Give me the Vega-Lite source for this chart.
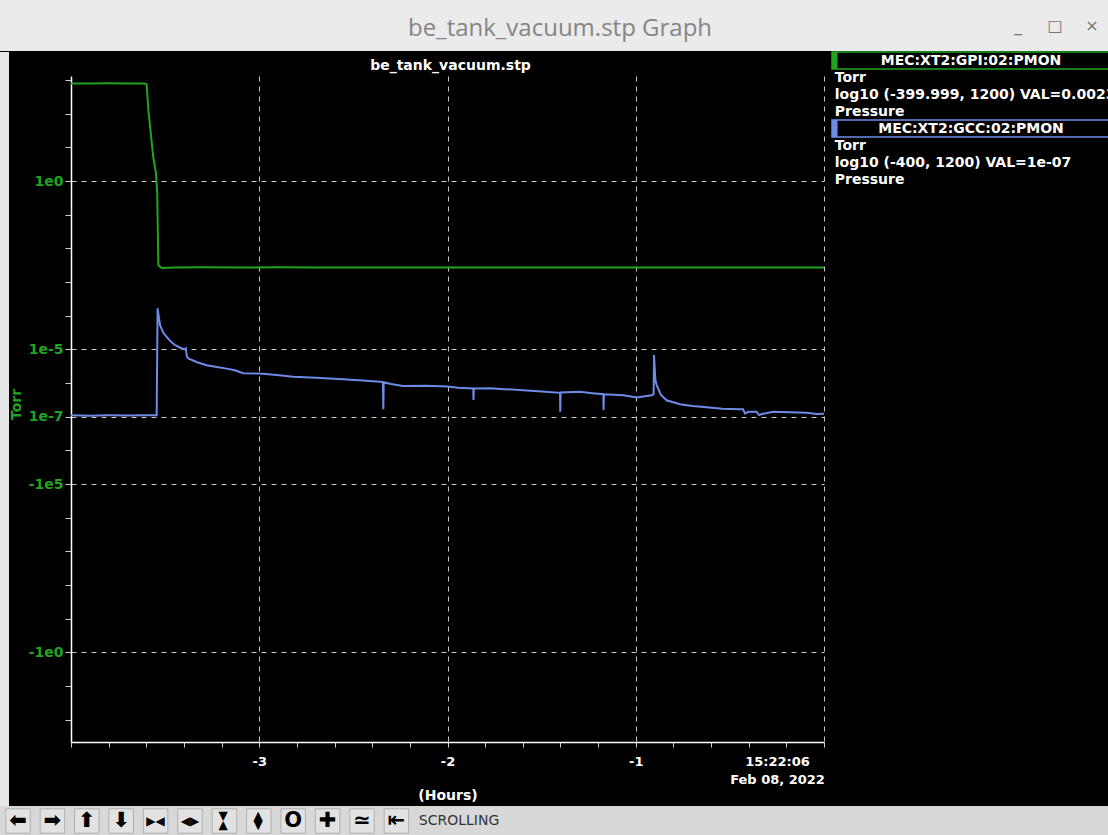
{
  "$schema": "https://vega.github.io/schema/vega-lite/v6.json",
  "padding": 0,
  "background": "#000000",
  "spacing": 0,
  "config": {"view": {"stroke": null}},
  "datasets": {
    "traces": [
      {"series": "MEC:XT2:GPI:02:PMON", "t": -4.0, "p": 795},
      {"series": "MEC:XT2:GPI:02:PMON", "t": -3.9, "p": 795},
      {"series": "MEC:XT2:GPI:02:PMON", "t": -3.8, "p": 800},
      {"series": "MEC:XT2:GPI:02:PMON", "t": -3.7, "p": 795},
      {"series": "MEC:XT2:GPI:02:PMON", "t": -3.62, "p": 795},
      {"series": "MEC:XT2:GPI:02:PMON", "t": -3.605, "p": 780},
      {"series": "MEC:XT2:GPI:02:PMON", "t": -3.598, "p": 740},
      {"series": "MEC:XT2:GPI:02:PMON", "t": -3.589, "p": 129},
      {"series": "MEC:XT2:GPI:02:PMON", "t": -3.563, "p": 5.1},
      {"series": "MEC:XT2:GPI:02:PMON", "t": -3.549, "p": 1.74},
      {"series": "MEC:XT2:GPI:02:PMON", "t": -3.542, "p": 0.437},
      {"series": "MEC:XT2:GPI:02:PMON", "t": -3.536, "p": 0.0032},
      {"series": "MEC:XT2:GPI:02:PMON", "t": -3.525, "p": 0.00275},
      {"series": "MEC:XT2:GPI:02:PMON", "t": -3.517, "p": 0.00263},
      {"series": "MEC:XT2:GPI:02:PMON", "t": -3.45, "p": 0.00269},
      {"series": "MEC:XT2:GPI:02:PMON", "t": -3.3, "p": 0.00275},
      {"series": "MEC:XT2:GPI:02:PMON", "t": -3.1, "p": 0.00269},
      {"series": "MEC:XT2:GPI:02:PMON", "t": -2.9, "p": 0.00275},
      {"series": "MEC:XT2:GPI:02:PMON", "t": -2.7, "p": 0.00269},
      {"series": "MEC:XT2:GPI:02:PMON", "t": -2.4, "p": 0.00272},
      {"series": "MEC:XT2:GPI:02:PMON", "t": -2.1, "p": 0.00269},
      {"series": "MEC:XT2:GPI:02:PMON", "t": -1.8, "p": 0.00272},
      {"series": "MEC:XT2:GPI:02:PMON", "t": -1.5, "p": 0.00269},
      {"series": "MEC:XT2:GPI:02:PMON", "t": -1.2, "p": 0.00272},
      {"series": "MEC:XT2:GPI:02:PMON", "t": -0.9, "p": 0.00269},
      {"series": "MEC:XT2:GPI:02:PMON", "t": -0.6, "p": 0.00269},
      {"series": "MEC:XT2:GPI:02:PMON", "t": -0.3, "p": 0.00269},
      {"series": "MEC:XT2:GPI:02:PMON", "t": 0.0, "p": 0.00269},
      {"series": "MEC:XT2:GCC:02:PMON", "t": -4.0, "p": 1.1e-7},
      {"series": "MEC:XT2:GCC:02:PMON", "t": -3.9, "p": 1.08e-7},
      {"series": "MEC:XT2:GCC:02:PMON", "t": -3.8, "p": 1.1e-7},
      {"series": "MEC:XT2:GCC:02:PMON", "t": -3.7, "p": 1.09e-7},
      {"series": "MEC:XT2:GCC:02:PMON", "t": -3.6, "p": 1.1e-7},
      {"series": "MEC:XT2:GCC:02:PMON", "t": -3.545, "p": 1.1e-7},
      {"series": "MEC:XT2:GCC:02:PMON", "t": -3.54, "p": 1.66e-4},
      {"series": "MEC:XT2:GCC:02:PMON", "t": -3.527, "p": 5.25e-5},
      {"series": "MEC:XT2:GCC:02:PMON", "t": -3.51, "p": 3.16e-5},
      {"series": "MEC:XT2:GCC:02:PMON", "t": -3.492, "p": 2.34e-5},
      {"series": "MEC:XT2:GCC:02:PMON", "t": -3.47, "p": 1.7e-5},
      {"series": "MEC:XT2:GCC:02:PMON", "t": -3.448, "p": 1.35e-5},
      {"series": "MEC:XT2:GCC:02:PMON", "t": -3.42, "p": 1.12e-5},
      {"series": "MEC:XT2:GCC:02:PMON", "t": -3.395, "p": 1.0e-5},
      {"series": "MEC:XT2:GCC:02:PMON", "t": -3.39, "p": 1.07e-5},
      {"series": "MEC:XT2:GCC:02:PMON", "t": -3.385, "p": 6.31e-6},
      {"series": "MEC:XT2:GCC:02:PMON", "t": -3.377, "p": 5.37e-6},
      {"series": "MEC:XT2:GCC:02:PMON", "t": -3.33, "p": 4.17e-6},
      {"series": "MEC:XT2:GCC:02:PMON", "t": -3.279, "p": 3.39e-6},
      {"series": "MEC:XT2:GCC:02:PMON", "t": -3.225, "p": 3.02e-6},
      {"series": "MEC:XT2:GCC:02:PMON", "t": -3.173, "p": 2.69e-6},
      {"series": "MEC:XT2:GCC:02:PMON", "t": -3.13, "p": 2.4e-6},
      {"series": "MEC:XT2:GCC:02:PMON", "t": -3.085, "p": 1.95e-6},
      {"series": "MEC:XT2:GCC:02:PMON", "t": -3.0, "p": 1.91e-6},
      {"series": "MEC:XT2:GCC:02:PMON", "t": -2.907, "p": 1.74e-6},
      {"series": "MEC:XT2:GCC:02:PMON", "t": -2.821, "p": 1.55e-6},
      {"series": "MEC:XT2:GCC:02:PMON", "t": -2.7, "p": 1.45e-6},
      {"series": "MEC:XT2:GCC:02:PMON", "t": -2.555, "p": 1.29e-6},
      {"series": "MEC:XT2:GCC:02:PMON", "t": -2.45, "p": 1.2e-6},
      {"series": "MEC:XT2:GCC:02:PMON", "t": -2.359, "p": 1.1e-6},
      {"series": "MEC:XT2:GCC:02:PMON", "t": -2.343, "p": 1.07e-6},
      {"series": "MEC:XT2:GCC:02:PMON", "t": -2.341, "p": 1.66e-7},
      {"series": "MEC:XT2:GCC:02:PMON", "t": -2.339, "p": 1.05e-6},
      {"series": "MEC:XT2:GCC:02:PMON", "t": -2.3, "p": 9.33e-7},
      {"series": "MEC:XT2:GCC:02:PMON", "t": -2.236, "p": 8.13e-7},
      {"series": "MEC:XT2:GCC:02:PMON", "t": -2.111, "p": 8.32e-7},
      {"series": "MEC:XT2:GCC:02:PMON", "t": -2.0, "p": 7.94e-7},
      {"series": "MEC:XT2:GCC:02:PMON", "t": -1.944, "p": 7.24e-7},
      {"series": "MEC:XT2:GCC:02:PMON", "t": -1.863, "p": 6.92e-7},
      {"series": "MEC:XT2:GCC:02:PMON", "t": -1.862, "p": 3.16e-7},
      {"series": "MEC:XT2:GCC:02:PMON", "t": -1.86, "p": 6.92e-7},
      {"series": "MEC:XT2:GCC:02:PMON", "t": -1.774, "p": 7.08e-7},
      {"series": "MEC:XT2:GCC:02:PMON", "t": -1.7, "p": 6.61e-7},
      {"series": "MEC:XT2:GCC:02:PMON", "t": -1.597, "p": 6.17e-7},
      {"series": "MEC:XT2:GCC:02:PMON", "t": -1.5, "p": 5.62e-7},
      {"series": "MEC:XT2:GCC:02:PMON", "t": -1.402, "p": 5.13e-7},
      {"series": "MEC:XT2:GCC:02:PMON", "t": -1.401, "p": 1.41e-7},
      {"series": "MEC:XT2:GCC:02:PMON", "t": -1.399, "p": 5.25e-7},
      {"series": "MEC:XT2:GCC:02:PMON", "t": -1.296, "p": 5.5e-7},
      {"series": "MEC:XT2:GCC:02:PMON", "t": -1.23, "p": 5.01e-7},
      {"series": "MEC:XT2:GCC:02:PMON", "t": -1.172, "p": 4.68e-7},
      {"series": "MEC:XT2:GCC:02:PMON", "t": -1.171, "p": 1.58e-7},
      {"series": "MEC:XT2:GCC:02:PMON", "t": -1.169, "p": 4.68e-7},
      {"series": "MEC:XT2:GCC:02:PMON", "t": -1.066, "p": 4.37e-7},
      {"series": "MEC:XT2:GCC:02:PMON", "t": -0.995, "p": 3.72e-7},
      {"series": "MEC:XT2:GCC:02:PMON", "t": -0.915, "p": 4.37e-7},
      {"series": "MEC:XT2:GCC:02:PMON", "t": -0.905, "p": 4.68e-7},
      {"series": "MEC:XT2:GCC:02:PMON", "t": -0.903, "p": 6.76e-6},
      {"series": "MEC:XT2:GCC:02:PMON", "t": -0.896, "p": 1.26e-6},
      {"series": "MEC:XT2:GCC:02:PMON", "t": -0.889, "p": 8.71e-7},
      {"series": "MEC:XT2:GCC:02:PMON", "t": -0.866, "p": 4.47e-7},
      {"series": "MEC:XT2:GCC:02:PMON", "t": -0.836, "p": 3.09e-7},
      {"series": "MEC:XT2:GCC:02:PMON", "t": -0.765, "p": 2.34e-7},
      {"series": "MEC:XT2:GCC:02:PMON", "t": -0.7, "p": 2.09e-7},
      {"series": "MEC:XT2:GCC:02:PMON", "t": -0.623, "p": 1.91e-7},
      {"series": "MEC:XT2:GCC:02:PMON", "t": -0.54, "p": 1.74e-7},
      {"series": "MEC:XT2:GCC:02:PMON", "t": -0.446, "p": 1.66e-7},
      {"series": "MEC:XT2:GCC:02:PMON", "t": -0.43, "p": 1.66e-7},
      {"series": "MEC:XT2:GCC:02:PMON", "t": -0.42, "p": 1.26e-7},
      {"series": "MEC:XT2:GCC:02:PMON", "t": -0.4, "p": 1.41e-7},
      {"series": "MEC:XT2:GCC:02:PMON", "t": -0.358, "p": 1.41e-7},
      {"series": "MEC:XT2:GCC:02:PMON", "t": -0.345, "p": 1.12e-7},
      {"series": "MEC:XT2:GCC:02:PMON", "t": -0.33, "p": 1.2e-7},
      {"series": "MEC:XT2:GCC:02:PMON", "t": -0.269, "p": 1.41e-7},
      {"series": "MEC:XT2:GCC:02:PMON", "t": -0.18, "p": 1.35e-7},
      {"series": "MEC:XT2:GCC:02:PMON", "t": -0.092, "p": 1.32e-7},
      {"series": "MEC:XT2:GCC:02:PMON", "t": -0.04, "p": 1.2e-7},
      {"series": "MEC:XT2:GCC:02:PMON", "t": 0.0, "p": 1.23e-7}
    ],
    "legendRows": [
      {"row": 1, "kind": "h", "series": "MEC:XT2:GPI:02:PMON", "text": "MEC:XT2:GPI:02:PMON"},
      {"row": 2, "kind": "b", "series": "MEC:XT2:GPI:02:PMON", "text": "Torr"},
      {"row": 3, "kind": "b", "series": "MEC:XT2:GPI:02:PMON", "text": "log10 (-399.999, 1200) VAL=0.0023"},
      {"row": 4, "kind": "b", "series": "MEC:XT2:GPI:02:PMON", "text": "Pressure"},
      {"row": 5, "kind": "h", "series": "MEC:XT2:GCC:02:PMON", "text": "MEC:XT2:GCC:02:PMON"},
      {"row": 6, "kind": "b", "series": "MEC:XT2:GCC:02:PMON", "text": "Torr"},
      {"row": 7, "kind": "b", "series": "MEC:XT2:GCC:02:PMON", "text": "log10 (-400, 1200) VAL=1e-07"},
      {"row": 8, "kind": "b", "series": "MEC:XT2:GCC:02:PMON", "text": "Pressure"}
    ],
    "tools": [
      {"id": "t01", "glyph": "⬅", "kind": "h"},
      {"id": "t02", "glyph": "➡", "kind": "h"},
      {"id": "t03", "glyph": "⬆", "kind": "h"},
      {"id": "t04", "glyph": "⬇", "kind": "h"},
      {"id": "t05", "glyph": "▶◀", "kind": "s"},
      {"id": "t06", "glyph": "◀▶", "kind": "s"},
      {"id": "t07", "glyph": "▶◀", "kind": "v"},
      {"id": "t08", "glyph": "◀▶", "kind": "v"},
      {"id": "t09", "glyph": "O", "kind": "h"},
      {"id": "t10", "glyph": "✚", "kind": "h"},
      {"id": "t11", "glyph": "≃", "kind": "h"},
      {"id": "t12", "glyph": "⇤", "kind": "h"},
      {"id": "t13", "glyph": "SCROLLING", "kind": "label"}
    ]
  },
  "vconcat": [
    {
      "width": 1108,
      "height": 51,
      "view": {"fill": "#ebebeb", "stroke": null},
      "layer": [
        {
          "data": {"values": [{"label": "be_tank_vacuum.stp Graph"}]},
          "mark": {"type": "text", "font": "Open Sans", "fontSize": 24, "color": "#858585", "dx": 6, "dy": 3},
          "encoding": {"text": {"field": "label", "type": "nominal"}}
        },
        {
          "data": {"values": [{"btn": "_"}, {"btn": "□"}, {"btn": "×"}]},
          "mark": {"type": "text", "font": "DejaVu Sans", "fontSize": 16, "color": "#777777"},
          "encoding": {
            "x": {"field": "btn", "type": "nominal", "scale": {"type": "point", "domain": ["_", "□", "×"], "range": [1018, 1092], "padding": 0}, "axis": null},
            "text": {"field": "btn", "type": "nominal"}
          }
        }
      ]
    },
    {
      "spacing": 0,
      "hconcat": [
        {
          "width": 9,
          "height": 754,
          "data": {"values": [{"panel": "edge"}]},
          "mark": {"type": "rect", "color": "#e6e6e6"},
          "encoding": {}
        },
        {
          "spacing": 6,
          "hconcat": [
            {
              "spacing": 0,
              "vconcat": [
                {
                  "width": 753,
                  "height": 21,
                  "data": {"values": [{"label": "be_tank_vacuum.stp"}]},
                  "mark": {"type": "text", "font": "DejaVu Sans", "fontWeight": "bold", "fontSize": 14, "color": "#ffffff", "dx": 3, "dy": 3.5},
                  "encoding": {"text": {"field": "label", "type": "nominal"}}
                },
                {
                  "width": 753,
                  "height": 666,
                  "data": {"name": "traces"},
                  "mark": {"type": "line", "strokeWidth": 2, "clip": true},
                  "encoding": {
                    "x": {
                      "field": "t", "type": "quantitative",
                      "scale": {"domain": [-4, 0], "nice": false, "zero": false},
                      "axis": {
                        "values": [-4, -3.8, -3.6, -3.4, -3.2, -3, -2.8, -2.6, -2.4, -2.2, -2, -1.8, -1.6, -1.4, -1.2, -1, -0.8, -0.6, -0.4, -0.2, 0],
                        "labelExpr": "datum.value == 0 ? ['15:22:06', 'Feb 08, 2022'] : datum.value == -3 ? '-3' : datum.value == -2 ? '-2' : datum.value == -1 ? '-1' : ''",
                        "labelFlush": false,
                        "labelOverlap": false,
                        "labelBound": false,
                        "labelOffset": {"condition": {"test": "datum.value == 0", "value": -47}, "value": 0},
                        "labelColor": "#ffffff",
                        "labelFont": "DejaVu Sans",
                        "labelFontWeight": "bold",
                        "labelFontSize": 13,
                        "labelLineHeight": 18.5,
                        "labelPadding": 8,
                        "tickColor": "#d0d0d0",
                        "tickSize": 5,
                        "domainColor": "#ffffff",
                        "domainWidth": 1.5,
                        "grid": true,
                        "gridColor": "#c8c8c8",
                        "gridDash": [5, 5],
                        "gridOpacity": {"condition": {"test": "datum.value == -3 || datum.value == -2 || datum.value == -1 || datum.value == 0", "value": 1}, "value": 0},
                        "title": "(Hours)",
                        "titleColor": "#ffffff",
                        "titleFont": "DejaVu Sans",
                        "titleFontWeight": "bold",
                        "titleFontSize": 14,
                        "titlePadding": 2
                      }
                    },
                    "y": {
                      "field": "p", "type": "quantitative",
                      "scale": {"type": "log", "domain": [2.19e-17, 1318], "nice": false},
                      "axis": {
                        "values": [1000, 100, 10, 1, 0.1, 0.01, 0.001, 0.0001, 1e-5, 1e-6, 1e-7, 1e-8, 1e-9, 1e-10, 1e-11, 1e-12, 1e-13, 1e-14, 1e-15, 1e-16],
                        "labelExpr": "round(log(datum.value)/LN10) == 0 ? '1e0' : round(log(datum.value)/LN10) == -5 ? '1e-5' : round(log(datum.value)/LN10) == -7 ? '1e-7' : round(log(datum.value)/LN10) == -9 ? '-1e5' : round(log(datum.value)/LN10) == -14 ? '-1e0' : ''",
                        "labelOverlap": false,
                        "labelFlush": false,
                        "labelColor": "#22a322",
                        "labelFont": "DejaVu Sans",
                        "labelFontWeight": "bold",
                        "labelFontSize": 14,
                        "labelPadding": 2,
                        "tickColor": "#d0d0d0",
                        "tickSize": 6,
                        "domainColor": "#ffffff",
                        "domainWidth": 1.5,
                        "grid": true,
                        "gridColor": "#c8c8c8",
                        "gridDash": [5, 5],
                        "gridOpacity": {"condition": {"test": "indexof([0, -5, -7, -9, -14], round(log(datum.value)/LN10)) >= 0", "value": 1}, "value": 0},
                        "title": "Torr",
                        "titleColor": "#22a322",
                        "titleFont": "DejaVu Sans",
                        "titleFontWeight": "bold",
                        "titleFontSize": 14,
                        "titleAngle": 270,
                        "titleAlign": "center",
                        "titleBaseline": "middle",
                        "titleX": -55,
                        "titleY": 328
                      }
                    },
                    "color": {
                      "field": "series", "type": "nominal",
                      "scale": {"domain": ["MEC:XT2:GPI:02:PMON", "MEC:XT2:GCC:02:PMON"], "range": ["#20a520", "#6d8ce6"]},
                      "legend": null
                    }
                  }
                }
              ]
            },
            {
              "width": 278,
              "height": 136,
              "data": {"name": "legendRows"},
              "encoding": {
                "y": {"field": "row", "type": "ordinal", "scale": {"type": "band", "paddingInner": 0, "paddingOuter": 0}, "axis": null}
              },
              "layer": [
                {
                  "transform": [{"filter": "datum.kind == 'h'"}],
                  "mark": {"type": "rect", "fill": "#000000", "strokeWidth": 1.5},
                  "encoding": {
                    "stroke": {"field": "series", "type": "nominal", "scale": {"domain": ["MEC:XT2:GPI:02:PMON", "MEC:XT2:GCC:02:PMON"], "range": ["#20a520", "#6d8ce6"]}, "legend": null}
                  }
                },
                {
                  "transform": [{"filter": "datum.kind == 'h'"}],
                  "mark": {"type": "rect"},
                  "encoding": {
                    "x": {"datum": 0, "type": "quantitative", "scale": {"domain": [0, 1], "nice": false, "zero": false}, "axis": null},
                    "x2": {"datum": 0.02},
                    "color": {"field": "series", "type": "nominal", "scale": {"domain": ["MEC:XT2:GPI:02:PMON", "MEC:XT2:GCC:02:PMON"], "range": ["#20a520", "#6d8ce6"]}, "legend": null}
                  }
                },
                {
                  "transform": [{"filter": "datum.kind == 'h'"}],
                  "mark": {"type": "text", "font": "DejaVu Sans", "fontWeight": "bold", "fontSize": 14, "color": "#ffffff"},
                  "encoding": {"text": {"field": "text", "type": "nominal"}}
                },
                {
                  "transform": [{"filter": "datum.kind == 'b'"}],
                  "mark": {"type": "text", "align": "left", "font": "DejaVu Sans", "fontWeight": "bold", "fontSize": 14, "color": "#ffffff"},
                  "encoding": {
                    "x": {"datum": 0.01, "type": "quantitative", "scale": {"domain": [0, 1], "nice": false, "zero": false}, "axis": null},
                    "text": {"field": "text", "type": "nominal"}
                  }
                }
              ]
            }
          ]
        }
      ]
    },
    {
      "width": 1108,
      "height": 30,
      "view": {"fill": "#d8d8d8", "stroke": null},
      "data": {"name": "tools"},
      "encoding": {
        "x": {"field": "id", "type": "nominal", "scale": {"type": "point", "range": [18, 430.8], "padding": 0}, "axis": null}
      },
      "layer": [
        {
          "transform": [{"filter": "datum.kind != 'label'"}],
          "mark": {"type": "point", "shape": "square", "size": 600, "filled": true, "color": "#e2e2e2", "stroke": "#b0b0b0", "strokeWidth": 1, "opacity": 1}
        },
        {
          "transform": [{"filter": "datum.kind == 'h'"}],
          "mark": {"type": "text", "font": "DejaVu Sans", "fontWeight": "bold", "fontSize": 21, "color": "#000000"},
          "encoding": {"text": {"field": "glyph", "type": "nominal"}}
        },
        {
          "transform": [{"filter": "datum.kind == 's'"}],
          "mark": {"type": "text", "font": "DejaVu Sans", "fontSize": 12, "color": "#000000"},
          "encoding": {"text": {"field": "glyph", "type": "nominal"}}
        },
        {
          "transform": [{"filter": "datum.kind == 'v'"}],
          "mark": {"type": "text", "font": "DejaVu Sans", "fontSize": 12, "color": "#000000", "angle": 90},
          "encoding": {"text": {"field": "glyph", "type": "nominal"}}
        },
        {
          "transform": [{"filter": "datum.kind == 'label'"}],
          "mark": {"type": "text", "align": "left", "dx": -12, "font": "DejaVu Sans", "fontSize": 14, "color": "#333333"},
          "encoding": {"text": {"field": "glyph", "type": "nominal"}}
        }
      ]
    }
  ]
}
